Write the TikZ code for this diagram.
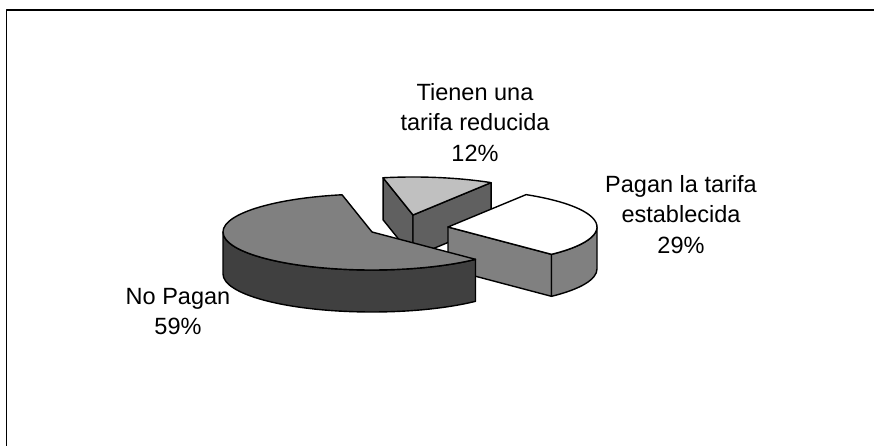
\documentclass[tikz,border=0pt]{standalone}
\usepackage{fontspec}
\setmainfont{Liberation Sans}
\usetikzlibrary{calc}
\definecolor{smalltop}{HTML}{C0C0C0}
\definecolor{smallside}{HTML}{606060}
\definecolor{bigtop}{HTML}{808080}
\definecolor{bigside}{HTML}{404040}
\definecolor{pagtop}{HTML}{FFFFFF}
\definecolor{pagside}{HTML}{808080}
\begin{document}
\begin{tikzpicture}[x=1pt,y=1pt,line join=round,
  edge/.style={draw=black,line width=1.4pt},
  ell/.style={x radius=149,y radius=38},
  lbl/.style={align=center,inner sep=0pt,anchor=north,font=\fontsize{23.5}{30.5}\selectfont}]
\useasboundingbox (0,0) rectangle (874,446);
% frame
\draw[line width=1.2pt] (6.5,-20) rectangle (890,436);
% centres
\coordinate (S) at (413,231);
\coordinate (T) at (448,219);
\coordinate (B) at (372,214);
% 12% slice (back)
\filldraw[fill=smallside,edge] (S) -- ++(101.6:149 and 38) -- ++(0,-42) -- ($(S)+(0,-42)$) -- cycle;
\filldraw[fill=smallside,edge] (S) -- ++(58.4:149 and 38) -- ++(0,-42) -- ($(S)+(0,-42)$) -- cycle;
\filldraw[fill=smalltop,edge] (S) -- ++(58.4:149 and 38) arc[start angle=58.4,end angle=101.6,ell] -- cycle;
% 29% slice
\filldraw[fill=pagside,edge] (T) -- ++(-46:149 and 38) -- ++(0,-42) -- ($(T)+(0,-42)$) -- cycle;
\filldraw[fill=pagside,edge] ($(T)+(-46:149 and 38)$) arc[start angle=-46,end angle=0,ell] -- ++(0,-42) arc[start angle=0,end angle=-46,ell] -- cycle;
\filldraw[fill=pagtop,edge] (T) -- ++(-46:149 and 38) arc[start angle=-46,end angle=58.4,ell] -- cycle;
% 59% slice (front)
\filldraw[fill=bigside,edge] ($(B)+(180:149 and 38)$) arc[start angle=180,end angle=314,ell] -- ++(0,-42) arc[start angle=314,end angle=180,ell] -- cycle;
\filldraw[fill=bigtop,edge] (B) -- ++(101.6:149 and 38) arc[start angle=101.6,end angle=314,ell] -- cycle;
% labels
\node[lbl] (l12) at (475,363) {Tienen una\\tarifa reducida\\12\%};
\node[lbl] (l29) at (681,271) {Pagan la tarifa\\establecida\\29\%};
\node[lbl] (l59) at (178,158) {No Pagan\\59\%};
\end{tikzpicture}
\end{document}
